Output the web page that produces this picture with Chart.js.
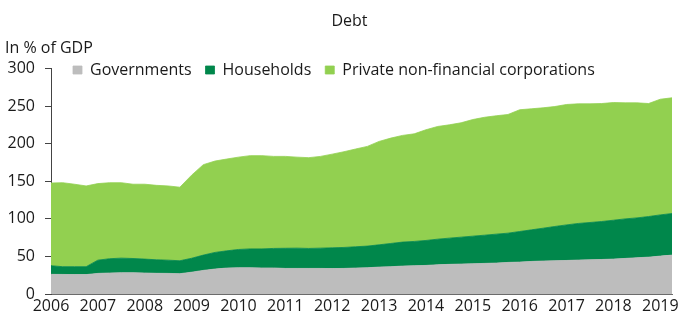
<!DOCTYPE html>
<html>
<head>
<meta charset="utf-8">
<script src="https://cdn.jsdelivr.net/npm/chart.js@4/dist/chart.umd.min.js"></script>
<style>
  html, body { margin: 0; padding: 0; background: #ffffff; }
  #wrap { position: relative; width: 679px; height: 315px; }
</style>
</head>
<body>
<div id="wrap"><canvas id="c"></canvas></div>
<script>
// ---- Data (quarterly, % of GDP) ----
const quarters = [
  "2006Q1","2006Q2","2006Q3","2006Q4","2007Q1","2007Q2","2007Q3","2007Q4",
  "2008Q1","2008Q2","2008Q3","2008Q4","2009Q1","2009Q2","2009Q3","2009Q4",
  "2010Q1","2010Q2","2010Q3","2010Q4","2011Q1","2011Q2","2011Q3","2011Q4",
  "2012Q1","2012Q2","2012Q3","2012Q4","2013Q1","2013Q2","2013Q3","2013Q4",
  "2014Q1","2014Q2","2014Q3","2014Q4","2015Q1","2015Q2","2015Q3","2015Q4",
  "2016Q1","2016Q2","2016Q3","2016Q4","2017Q1","2017Q2","2017Q3","2017Q4",
  "2018Q1","2018Q2","2018Q3","2018Q4","2019Q1","2019Q2"
];
const yearTicks = ["2006","2007","2008","2009","2010","2011","2012","2013","2014","2015","2016","2017","2018","2019"];
const seriesNames = ["Governments", "Households", "Private non-financial corporations"];

const governments = [
  26.1,26.0,25.8,25.8,27.4,27.9,28.3,28.3,27.9,27.5,27.4,27.0,
  29.0,31.4,33.2,34.5,34.9,34.9,34.6,34.6,34.0,34.0,34.0,34.0,
  33.8,34.0,34.5,34.9,35.8,36.3,37.1,37.6,38.0,38.9,39.4,39.8,
  40.2,40.7,41.1,42.0,42.4,43.3,43.8,44.2,44.6,45.1,45.5,45.9,
  46.4,47.3,48.2,49.0,50.4,51.7
];
const households = [
  11.5,10.3,10.5,10.5,17.6,19.0,19.4,18.9,18.5,18.0,17.6,17.2,
  18.5,20.3,22.1,22.9,24.3,25.1,25.4,26.0,26.8,27.0,26.6,27.0,
  27.6,27.9,28.3,28.8,29.6,30.9,31.9,32.3,33.2,34.0,34.9,35.8,
  36.7,37.5,38.5,38.9,40.7,42.0,43.7,45.6,47.3,48.7,49.6,50.5,
  51.7,52.6,53.0,54.0,54.8,55.3
];
const corporations = [
  110.0,111.7,109.7,107.4,101.8,101.1,100.3,98.8,99.6,99.0,98.7,97.8,
  110.5,120.3,121.5,122.1,122.8,124.0,124.0,122.4,122.2,121.0,120.7,122.0,
  124.6,127.3,130.0,132.6,137.5,140.1,141.9,143.1,147.2,149.9,150.7,152.1,
  155.1,156.8,157.4,157.8,161.9,161.0,160.1,159.5,160.1,159.1,157.8,156.9,
  156.5,154.3,153.0,150.3,153.8,153.9
];
const yTicks = [0, 50, 100, 150, 200, 250, 300];

// ---- Styling ----
const FONT = "'Open Sans', 'DejaVu Sans', sans-serif";
const TXT = '#1a1a1a';
const colors = ['#bdbdbd', '#00874b', '#92d050'];

// Legend drawn by Chart.js but overlaid at the top of the plot area
const legendOverlay = {
  id: 'legendOverlay',
  beforeUpdate(chart) {
    const lg = chart.legend;
    if (lg && !lg._patched) {
      const origFit = lg.fit;
      lg.fit = function () { origFit.call(this); this.height = 0; };
      lg._patched = true;
    }
  },
  afterLayout(chart) {
    const lg = chart.legend;
    if (lg) {
      const pad = lg.options.labels.padding;
      lg.left = 73 - pad;
      lg.right = 679;
      lg.top = 62 - pad;
      lg.bottom = lg.top + 40;
      lg.width = lg.right - lg.left;
      lg.height = 40;
    }
    const tb = chart.titleBlock;
    if (tb) { tb.left += 22; tb.width = tb.right - tb.left; }
  }
};

const ctx = document.getElementById('c').getContext('2d');
new Chart(ctx, {
  type: 'line',
  data: {
    labels: quarters,
    datasets: [
      { label: seriesNames[0], data: governments, backgroundColor: colors[0], borderColor: colors[0], fill: 'origin' },
      { label: seriesNames[1], data: households, backgroundColor: colors[1], borderColor: colors[1], fill: '-1' },
      { label: seriesNames[2], data: corporations, backgroundColor: colors[2], borderColor: colors[2], fill: '-1' }
    ]
  },
  options: {
    responsive: true,
    maintainAspectRatio: false,
    animation: false,
    layout: { padding: { left: 5, right: 7, top: 0, bottom: 0 } },
    elements: {
      point: { radius: 0, hoverRadius: 0 },
      line: { tension: 0, borderWidth: 0.8 }
    },
    scales: {
      x: {
        type: 'category',
        offset: false,
        afterFit: (s) => { s.height = 21; },
        grid: { display: false, drawTicks: false },
        border: { display: true, color: '#6b6b6b', width: 1 },
        ticks: {
          autoSkip: false,
          maxRotation: 0,
          padding: 3,
          color: TXT,
          font: { family: FONT, size: 16 },
          callback: function (value, index) {
            const q = quarters[index];
            if (q.endsWith('Q1')) {
              const y = q.slice(0, 4);
              return yearTicks.includes(y) ? y : '';
            }
            return '';
          }
        }
      },
      y: {
        stacked: true,
        min: yTicks[0],
        max: yTicks[yTicks.length - 1],
        afterFit: (s) => { s.width = 46; },
        afterBuildTicks: (s) => { s.ticks = yTicks.map(v => ({ value: v })); },
        grid: { drawOnChartArea: false, drawTicks: true, tickLength: 6, color: '#444', lineWidth: 1 },
        border: { display: true, color: '#444', width: 1 },
        ticks: {
          padding: 10,
          color: TXT,
          font: { family: FONT, size: 16 }
        }
      }
    },
    plugins: {
      title: {
        display: true,
        text: 'Debt',
        color: TXT,
        font: { family: FONT, size: 16, weight: 'normal' },
        padding: { top: 12, bottom: 0 }
      },
      subtitle: {
        display: true,
        text: 'In % of GDP',
        align: 'start',
        color: TXT,
        font: { family: FONT, size: 16, weight: 'normal' },
        padding: { top: 8, bottom: 10 }
      },
      legend: {
        display: true,
        position: 'top',
        align: 'start',
        labels: {
          boxWidth: 9,
          boxHeight: 8,
          padding: 14,
          color: TXT,
          font: { family: FONT, size: 16 }
        }
      },
      tooltip: { enabled: false }
    }
  },
  plugins: [legendOverlay]
});
</script>
</body>
</html>
